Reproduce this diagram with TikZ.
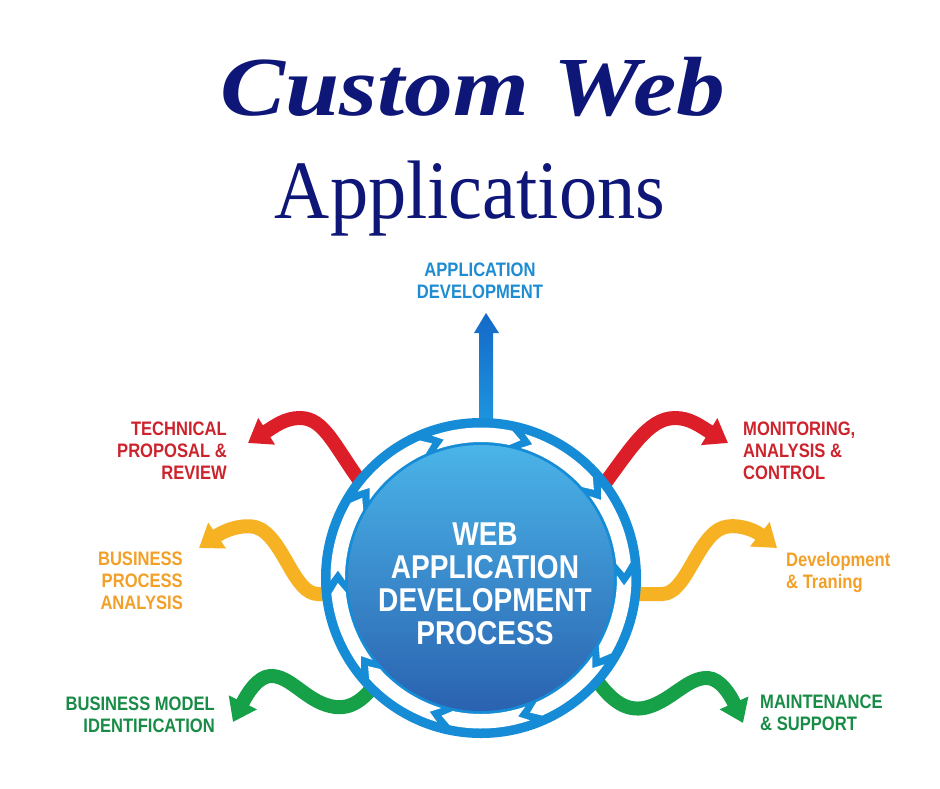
\documentclass[tikz,border=0pt]{standalone}
\usepackage{fontspec}
\setmainfont{Liberation Serif}
\newfontfamily\labfont[FakeStretch=0.85]{Liberation Sans}
\usetikzlibrary{arrows.meta}
\definecolor{navy}{RGB}{14,22,120}
\definecolor{ringblue}{RGB}{22,140,215}
\definecolor{diskTop}{RGB}{74,180,232}
\definecolor{diskBot}{RGB}{42,98,176}
\definecolor{rib red}{RGB}{220,30,40}
\definecolor{rib orange}{RGB}{247,178,35}
\definecolor{rib green}{RGB}{22,160,72}
\definecolor{txt red}{RGB}{205,35,45}
\definecolor{txt orange}{RGB}{242,160,40}
\definecolor{txt green}{RGB}{24,140,70}
\definecolor{txt blue}{RGB}{30,140,210}
\begin{document}
\begin{tikzpicture}[x=1pt,y=-1pt,
  lab/.style={inner sep=0pt,font=\labfont\bfseries\fontsize{19.5}{22}\selectfont},
  ribbon/.style={line width=14pt,-{Triangle[width=30pt,length=22pt]}}]
\useasboundingbox (0,0) rectangle (940,788);
\fill[white] (0,0) rectangle (940,788);

% titles
\node[anchor=base,inner sep=0pt,text=navy,font=\fontsize{84}{84}\selectfont\bfseries\itshape] (title1) at (473,115) {\scalebox{1.16}[1]{Custom Web}};
\node[anchor=base,inner sep=0pt,text=navy,font=\fontsize{83}{83}\selectfont] (title2) at (470,218) {\scalebox{0.92}[1]{Applications}};

% labels
\node[lab,anchor=north,align=center,text=txt blue] (appdev) at (480,263) {APPLICATION\\DEVELOPMENT};
\node[lab,anchor=north east,align=right,text=txt red] (tech) at (227,422) {TECHNICAL\\PROPOSAL \&\\REVIEW};
\node[lab,anchor=north east,align=right,text=txt orange] (bpa) at (183,552) {BUSINESS\\PROCESS\\ANALYSIS};
\node[lab,anchor=north east,align=right,text=txt green] (bmi) at (215,697) {BUSINESS MODEL\\IDENTIFICATION};
\node[lab,anchor=north west,align=left,text=txt red] (mon) at (743,422) {MONITORING,\\ANALYSIS \&\\CONTROL};
\node[lab,anchor=north west,align=left,text=txt orange] (devt) at (786,552) {Development\\\& Traning};
\node[lab,anchor=north west,align=left,text=txt green] (maint) at (760,695) {MAINTENANCE\\\& SUPPORT};

% ribbons
\draw[ribbon,rib red] (365,488) .. controls (335,448) and (325,418) .. (300,418) .. controls (285,418) and (275,426) .. (248,443);
\draw[ribbon,rib red] (600,490) .. controls (630,450) and (648,418) .. (675,418) .. controls (690,418) and (700,426) .. (728,443);
\draw[ribbon,rib orange] (340,594) -- (318,594) .. controls (295,594) and (285,545) .. (262,530) .. controls (250,522) and (228,528) .. (199,548);
\draw[ribbon,rib orange] (635,594) -- (662,594) .. controls (685,594) and (695,545) .. (718,530) .. controls (730,522) and (752,528) .. (777,548);
\draw[ribbon,rib green] (375,684) .. controls (360,705) and (345,710) .. (330,706) .. controls (305,700) and (290,675) .. (270,676) .. controls (258,677) and (248,692) .. (233,722);
\draw[ribbon,rib green] (598,682) .. controls (615,705) and (630,712) .. (648,707) .. controls (672,700) and (688,677) .. (708,678) .. controls (720,679) and (730,694) .. (743,723);

% blue arrow up
\shade[top color={rgb,255:red,20;green,105;blue,200},bottom color={rgb,255:red,30;green,150;blue,222}]
  (479,425) -- (479,333) -- (474,333) -- (486,313) -- (499,333) -- (493,333) -- (493,425) -- cycle;

% circle
\coordinate (c) at (481,578);
\fill[ringblue] (c) circle (160);
\begin{scope}[shift={(481,578)}]
\foreach \a in {35,71,...,359}{
  \fill[white] (\a:150.5) arc[start angle=\a, end angle=\a+31, radius=150.5]
    -- (\a+35:143.25) -- (\a+31:136) arc[start angle=\a+31, end angle=\a, radius=136]
    -- (\a+4:143.25) -- cycle;
}
\end{scope}
\shade[top color=diskTop,bottom color=diskBot] (c) circle (133);
\node[inner sep=0pt,align=center,text=white,font=\labfont\bfseries\fontsize{33}{33}\selectfont] (core) at (485,584) {WEB\\APPLICATION\\DEVELOPMENT\\PROCESS};
\end{tikzpicture}
\end{document}
